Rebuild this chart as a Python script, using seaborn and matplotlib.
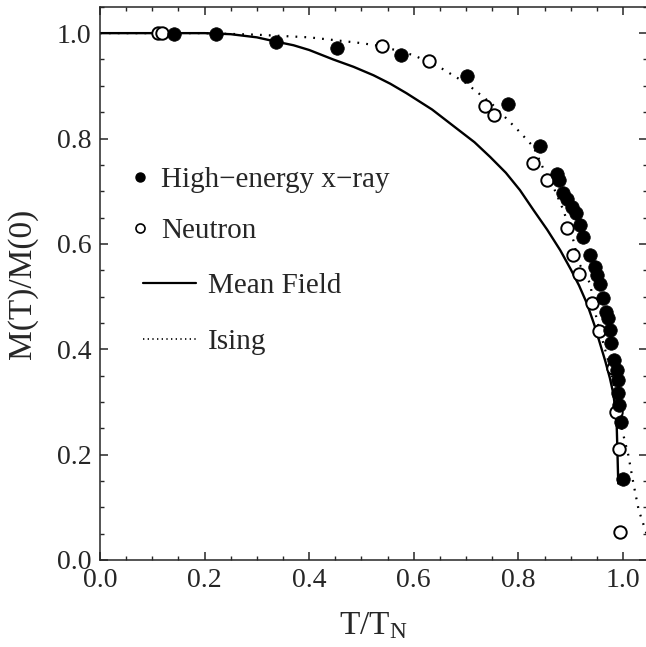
import matplotlib
matplotlib.use("Agg")
import matplotlib.pyplot as plt
import seaborn as sns
import pandas as pd
from matplotlib.ticker import MultipleLocator
from matplotlib.lines import Line2D

# ---- data ----
xray_t = [0.141, 0.222, 0.336, 0.453, 0.575, 0.701, 0.781, 0.841, 0.873, 0.878,
          0.885, 0.892, 0.902, 0.910, 0.918, 0.924, 0.937, 0.946, 0.951, 0.956,
          0.962, 0.968, 0.972, 0.975, 0.978, 0.983, 0.988, 0.991, 0.990, 0.993,
          0.996, 1.000]
xray_m = [0.999, 0.999, 0.984, 0.971, 0.958, 0.919, 0.865, 0.786, 0.732, 0.721,
          0.696, 0.686, 0.670, 0.658, 0.636, 0.613, 0.579, 0.557, 0.541, 0.524,
          0.498, 0.470, 0.459, 0.436, 0.411, 0.380, 0.361, 0.342, 0.316, 0.295,
          0.262, 0.154]

neutron_t = [0.110, 0.118, 0.539, 0.630, 0.736, 0.754, 0.827, 0.855, 0.892, 0.904,
             0.915, 0.941, 0.955, 0.980, 0.987, 0.993, 0.994]
neutron_m = [1.000, 1.000, 0.976, 0.947, 0.862, 0.844, 0.753, 0.721, 0.631, 0.579,
             0.542, 0.487, 0.435, 0.364, 0.281, 0.210, 0.054]

mf_t = [0.0, 0.1, 0.2, 0.25, 0.30, 0.336, 0.37, 0.40, 0.446, 0.485, 0.523, 0.555,
        0.586, 0.635, 0.682, 0.716, 0.746, 0.776, 0.803, 0.829, 0.855, 0.880, 0.900,
        0.916, 0.931, 0.945, 0.956, 0.966, 0.975, 0.981, 0.985, 0.988, 0.989, 0.991]
mf_m = [1.0, 1.0, 1.0, 0.998, 0.992, 0.984, 0.977, 0.968, 0.950, 0.936, 0.920, 0.904,
        0.886, 0.855, 0.819, 0.793, 0.765, 0.735, 0.702, 0.664, 0.627, 0.588, 0.552,
        0.521, 0.487, 0.447, 0.411, 0.378, 0.345, 0.318, 0.290, 0.255, 0.220, 0.145]

ising_t = [0.0, 0.2, 0.3, 0.4, 0.446, 0.5, 0.539, 0.6, 0.65, 0.70, 0.75, 0.80, 0.829,
           0.848, 0.867, 0.886, 0.905, 0.915, 0.937, 0.950, 0.975, 1.000, 1.010,
           1.020, 1.030, 1.045]
ising_m = [1.0, 1.0, 0.997, 0.992, 0.987, 0.981, 0.975, 0.958, 0.935, 0.905, 0.865,
           0.815, 0.784, 0.742, 0.708, 0.664, 0.607, 0.565, 0.525, 0.455, 0.367,
           0.240, 0.200, 0.145, 0.095, 0.050]

labels = ["High\u2212energy x\u2212ray", "Neutron", "Mean Field", "Ising"]

sns.set_style("ticks")
plt.rcParams.update({
    "font.family": ["Liberation Serif", "DejaVu Serif"],
    "mathtext.fontset": "custom",
    "mathtext.rm": "Liberation Serif",
    "mathtext.it": "Liberation Serif:italic",
    "xtick.direction": "in",
    "ytick.direction": "in",
    "xtick.top": True,
    "ytick.right": True,
    "axes.linewidth": 1.1,
})

fig = plt.figure(figsize=(6.46, 6.47), dpi=100)
ax = fig.add_axes([0.1548, 0.1345, 0.846, 0.855])

df_x = pd.DataFrame({"t": xray_t, "m": xray_m})
df_n = pd.DataFrame({"t": neutron_t, "m": neutron_m})
df_mf = pd.DataFrame({"t": mf_t, "m": mf_m})
df_is = pd.DataFrame({"t": ising_t, "m": ising_m})

sns.lineplot(data=df_mf, x="t", y="m", ax=ax, color="black", lw=1.7, sort=False,
             estimator=None, zorder=2)
sns.lineplot(data=df_is, x="t", y="m", ax=ax, color="black", lw=1.6, sort=False,
             estimator=None, zorder=2, linestyle=(0, (0.8, 3.2)))
sns.scatterplot(data=df_n, x="t", y="m", ax=ax, marker="o", s=80,
                facecolor="white", edgecolor="black", linewidth=1.4, zorder=3)
sns.scatterplot(data=df_x, x="t", y="m", ax=ax, marker="o", s=95,
                color="black", edgecolor="black", linewidth=0.5, zorder=4)

ax.set_xlim(0, 1.045)
ax.set_ylim(0, 1.05)
ax.xaxis.set_major_locator(MultipleLocator(0.2))
ax.xaxis.set_minor_locator(MultipleLocator(0.05))
ax.yaxis.set_major_locator(MultipleLocator(0.2))
ax.yaxis.set_minor_locator(MultipleLocator(0.05))
ax.xaxis.set_major_formatter(matplotlib.ticker.FormatStrFormatter("%.1f"))
ax.yaxis.set_major_formatter(matplotlib.ticker.FormatStrFormatter("%.1f"))
ax.tick_params(which="major", length=6, width=1.1, labelsize=20, pad=6)
ax.tick_params(which="minor", length=3, width=1.0)
ax.tick_params(axis="x", which="both", top=True)
ax.tick_params(axis="y", which="both", right=True)

ax.set_xlabel("T/T$_\\mathrm{N}$", fontsize=24, labelpad=12)
ax.set_ylabel("M(T)/M(0)", fontsize=24, labelpad=14)

h1 = [Line2D([], [], ls="none", marker="o", ms=6.5, mfc="black", mec="black"),
      Line2D([], [], ls="none", marker="o", ms=6.5, mfc="white", mec="black", mew=1.2)]
leg1 = ax.legend(h1, labels[:2], loc="upper left", bbox_to_anchor=(0.035, 0.732),
                 frameon=False, fontsize=21, handlelength=0.6, handletextpad=0.45,
                 labelspacing=0.85, borderaxespad=0)
ax.add_artist(leg1)
h2 = [Line2D([], [], color="black", lw=1.6),
      Line2D([], [], color="black", lw=1.2, ls=(0, (0.8, 2.0)))]
ax.legend(h2, labels[2:], loc="upper left", bbox_to_anchor=(0.058, 0.54),
          frameon=False, fontsize=21, handlelength=1.8, handletextpad=0.4,
          labelspacing=1.0, borderaxespad=0)

fig.savefig("out.png", dpi=100)
